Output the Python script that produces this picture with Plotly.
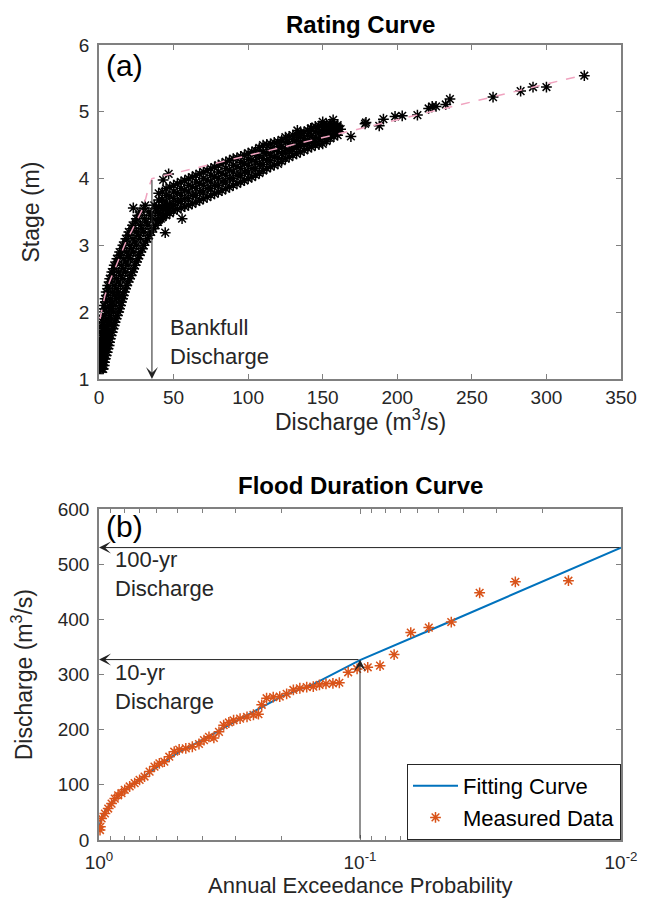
import numpy as np
import plotly.graph_objects as go

# ---- (a) rating curve: measured stage/discharge pairs ----
# steep low-flow part, read as rows of constant stage
steep_stage = [1.15, 1.2, 1.3, 1.4, 1.5, 1.6, 1.7, 1.8, 1.9, 2.0, 2.1, 2.2, 2.3,
               2.4, 2.5, 2.6, 2.7, 2.8, 2.9, 3.0, 3.1, 3.2, 3.3, 3.4, 3.5, 3.6]
steep_q = [
    [0.3, 1.2, 2.0, 2.8], [0.2, 1.3, 2.4, 3.5], [0.4, 1.7, 3.0, 4.2],
    [0.6, 2.2, 3.8, 5.5], [0.8, 2.8, 4.8, 6.8], [1.0, 3.2, 5.4, 7.6],
    [1.4, 3.9, 6.4, 8.9], [1.9, 4.6, 7.4, 10.2], [2.3, 5.3, 8.4, 11.5],
    [2.8, 6.3, 9.7, 13.2], [3.4, 7.1, 10.8, 14.5], [4.0, 7.9, 11.9, 15.8],
    [4.8, 8.9, 12.9, 17.0], [5.8, 10.1, 14.3, 18.6], [7.2, 11.6, 16.0, 20.5],
    [8.6, 13.2, 17.8, 22.5], [10.2, 14.9, 19.5, 24.2], [12.0, 16.7, 21.3, 26.0],
    [13.8, 18.5, 23.2, 28.0], [16.0, 20.7, 25.3, 30.0], [18.0, 22.8, 27.7, 32.5],
    [20.0, 25.0, 30.0, 35.0], [22.5, 27.7, 32.8, 38.0], [25.0, 30.5, 36.0, 41.5],
    [27.5, 33.5, 39.5, 45.5], [31.0, 37.0, 43.5, 50.0],
]
steep_stage_b = [1.25, 1.35, 1.45, 1.55, 1.65, 1.75, 1.85, 1.95, 2.05, 2.15, 2.25,
                 2.35, 2.45, 2.55, 2.65, 2.75, 2.85, 2.95, 3.05, 3.15, 3.25, 3.35,
                 3.45, 3.55]
steep_q_b = [
    [0.8, 2.2, 3.7], [1.0, 2.9, 4.8], [1.2, 3.5, 6.0], [1.5, 4.1, 7.1],
    [1.9, 4.8, 8.1], [2.3, 5.5, 9.4], [2.7, 6.4, 10.7], [3.2, 7.3, 12.2],
    [3.8, 8.3, 13.7], [4.4, 9.2, 15.0], [5.2, 10.3, 16.3], [6.2, 11.5, 17.7],
    [7.4, 12.9, 19.4], [8.8, 14.5, 21.4], [10.3, 16.2, 23.2], [12.0, 17.9, 25.0],
    [13.8, 19.8, 26.9], [15.8, 21.8, 28.9], [17.8, 24.0, 31.1], [19.8, 26.3, 33.6],
    [22.0, 28.8, 36.4], [24.5, 31.6, 39.6], [27.0, 34.6, 43.3], [30.0, 38.0, 47.5],
]
# flatter high-flow part, read as columns of constant discharge
flat_q = [40, 45, 50, 55, 60, 65, 70, 75, 80, 85, 90, 95, 100, 105, 110,
          115, 120, 125, 130, 135, 140, 145, 150, 155, 160]
flat_stage = [
    [3.38, 3.48, 3.58, 3.68, 3.78], [3.45, 3.55, 3.65, 3.75, 3.85],
    [3.52, 3.61, 3.70, 3.80, 3.90], [3.56, 3.66, 3.75, 3.85, 3.95],
    [3.60, 3.70, 3.80, 3.90, 4.00], [3.65, 3.75, 3.85, 3.95, 4.05],
    [3.70, 3.80, 3.90, 4.00, 4.10], [3.75, 3.85, 3.95, 4.05, 4.15],
    [3.80, 3.90, 4.00, 4.10, 4.20], [3.85, 3.95, 4.05, 4.15, 4.25],
    [3.90, 4.00, 4.10, 4.20, 4.30], [3.95, 4.05, 4.15, 4.24, 4.33],
    [4.00, 4.10, 4.20, 4.29, 4.38], [4.05, 4.15, 4.25, 4.34, 4.42],
    [4.12, 4.21, 4.30, 4.40, 4.50], [4.18, 4.27, 4.35, 4.44, 4.52],
    [4.22, 4.31, 4.40, 4.48, 4.55], [4.30, 4.38, 4.45, 4.54, 4.62],
    [4.35, 4.43, 4.50, 4.58, 4.65], [4.40, 4.48, 4.55, 4.62, 4.68],
    [4.45, 4.52, 4.58, 4.65, 4.72], [4.50, 4.56, 4.62, 4.70, 4.78],
    [4.52, 4.60, 4.68, 4.74, 4.80], [4.60, 4.66, 4.72, 4.77, 4.82],
    [4.65, 4.70, 4.75, 4.78, 4.80],
]
flat_q_b = [42.5, 47.5, 52.5, 57.5, 62.5, 67.5, 72.5, 77.5, 82.5, 87.5, 92.5, 97.5,
            102.5, 107.5, 112.5, 117.5, 122.5, 127.5, 132.5, 137.5, 142.5, 147.5,
            152.5, 157.5]
flat_stage_b = [
    [3.42, 3.55, 3.68, 3.80], [3.48, 3.61, 3.74, 3.87], [3.54, 3.66, 3.79, 3.92],
    [3.58, 3.70, 3.83, 3.97], [3.62, 3.75, 3.88, 4.02], [3.67, 3.80, 3.93, 4.07],
    [3.72, 3.85, 3.98, 4.12], [3.77, 3.90, 4.03, 4.17], [3.82, 3.95, 4.08, 4.22],
    [3.87, 4.00, 4.13, 4.27], [3.92, 4.05, 4.18, 4.31], [3.97, 4.10, 4.23, 4.35],
    [4.02, 4.15, 4.28, 4.40], [4.08, 4.21, 4.34, 4.46], [4.15, 4.27, 4.39, 4.51],
    [4.20, 4.32, 4.43, 4.54], [4.26, 4.37, 4.48, 4.58], [4.32, 4.42, 4.53, 4.63],
    [4.37, 4.47, 4.57, 4.66], [4.42, 4.51, 4.60, 4.70], [4.47, 4.55, 4.64, 4.75],
    [4.51, 4.60, 4.69, 4.79], [4.56, 4.64, 4.72, 4.81], [4.63, 4.70, 4.76, 4.81],
]
# isolated points
loose_q = [13.5, 23, 43, 44.4, 55.7, 46.7, 133, 142, 150, 157, 162, 168.9, 178.4,
           179, 187.9, 190.7, 198.5, 203.3, 213.5, 221, 223.4, 226, 232.5, 235.3,
           264.2, 282.7, 291, 300, 325.4]
loose_stage = [2.24, 3.56, 3.98, 3.19, 3.4, 4.07, 4.72, 4.75, 4.85, 4.88, 4.74, 4.63,
               4.82, 4.84, 4.79, 4.89, 4.93, 4.94, 4.95, 5.05, 5.08, 5.08, 5.11, 5.19,
               5.22, 5.31, 5.37, 5.37, 5.54]

# fitted rating (pink dashed)
fit_q = [0.7, 2, 4, 7, 10, 14, 18, 22, 26, 30, 33, 35.5, 325]
fit_stage = [1.9, 2.05, 2.25, 2.45, 2.62, 2.85, 3.05, 3.22, 3.4, 3.58, 3.85, 4.0, 5.55]
bankfull_q = 35.5
bankfull_stage = 4.0

# ---- (b) flood duration curve ----
meas_prob = [0.991, 0.988, 0.977, 0.949, 0.922, 0.895, 0.87, 0.845, 0.82, 0.797,
             0.763, 0.73, 0.699, 0.669, 0.64, 0.613, 0.587, 0.562, 0.538, 0.515,
             0.493, 0.465, 0.439, 0.414, 0.396, 0.379, 0.363, 0.347, 0.333, 0.318,
             0.305, 0.288, 0.271, 0.256, 0.245, 0.238, 0.228, 0.215, 0.203, 0.191,
             0.18, 0.17, 0.16, 0.151, 0.143, 0.135, 0.127, 0.12, 0.111, 0.1026,
             0.0934, 0.0838, 0.074, 0.0639, 0.0545, 0.0447, 0.0348, 0.0254, 0.0159]
meas_q = [18, 24, 39, 48, 57, 66, 75, 81, 85, 91, 97, 103, 109, 115, 124, 133, 139,
          142, 151, 160, 164, 166, 169, 174, 181, 187, 185, 196, 208, 213, 217, 220,
          223, 227, 228, 245, 257, 259, 260, 265, 272, 275, 277, 278, 281, 283, 284,
          285, 304, 310, 313, 316, 336, 376, 385, 395, 448, 468, 470]
fit_prob = [0.995, 0.98, 0.95, 0.9, 0.8, 0.7, 0.6, 0.5, 0.4, 0.3, 0.2, 0.15, 0.1,
            0.05, 0.02, 0.01]
fit_discharge = [25, 38, 52, 66, 90, 110, 132, 158, 182, 215, 260, 283, 326, 387,
                 469, 530]
p10, q10 = 0.1, 327
p100, q100 = 0.01, 530

# flatten the rating readings
rating_q, rating_h = [], []
for stages, qs in ((steep_stage, steep_q), (steep_stage_b, steep_q_b)):
    for h, row in zip(stages, qs):
        rating_q += row
        rating_h += [h] * len(row)
for qs, stages in ((flat_q, flat_stage), (flat_q_b, flat_stage_b)):
    for q, col in zip(qs, stages):
        rating_q += [q] * len(col)
        rating_h += col
rating_q += loose_q
rating_h += loose_stage

FONT = "Liberation Sans, Arial, sans-serif"
TXT = "#262626"
AX = "#808080"

fig = go.Figure()
fig.add_trace(go.Scatter(x=rating_q, y=rating_h, mode="markers", showlegend=False,
                         marker=dict(symbol="asterisk-open", size=9, color="black",
                                     line=dict(color="black", width=1.5)),
                         xaxis="x", yaxis="y"))
fig.add_trace(go.Scatter(x=fit_q, y=fit_stage, mode="lines", showlegend=False,
                         line=dict(color="#f0a3bf", width=1.5, dash="dash"),
                         xaxis="x", yaxis="y"))
fig.add_trace(go.Scatter(x=fit_prob, y=fit_discharge, mode="lines", name="Fitting Curve",
                         line=dict(color="#0072BD", width=2), xaxis="x2", yaxis="y2"))
fig.add_trace(go.Scatter(x=meas_prob, y=meas_q, mode="markers", name="Measured Data",
                         marker=dict(symbol="asterisk-open", size=9, color="#D95319",
                                     line=dict(color="#D95319", width=1.5)),
                         xaxis="x2", yaxis="y2"))

axis_common = dict(showline=True, linecolor=AX, linewidth=1.5, mirror="ticks",
                   ticks="inside", ticklen=5, tickcolor=AX, showgrid=False,
                   zeroline=False, tickfont=dict(size=19, color=TXT, family=FONT))

# the page has an 8px body margin, so the figure is 16px smaller than the window
fig.update_layout(
    width=641, height=890,
    margin=dict(l=91, r=23, t=37, b=58),
    plot_bgcolor="white", paper_bgcolor="white",
    font=dict(family=FONT, color=TXT, size=19),
    xaxis=dict(domain=[0, 1], range=[0, 350], tickvals=list(range(0, 351, 50)),
               anchor="y", ticklabelstandoff=1, **axis_common),
    yaxis=dict(domain=[0.58, 1], range=[1, 6], dtick=1, anchor="x",
               ticklabelstandoff=4, **axis_common),
    xaxis2=dict(domain=[0, 1], type="log", range=[0, -2], anchor="y2",
                tickvals=[1, 0.1, 0.01],
                ticktext=["10<sup>0</sup>", "10<sup>-1</sup>", "10<sup>-2</sup>"],
                minor=dict(tickvals=[0.9, 0.8, 0.7, 0.6, 0.5, 0.4, 0.3, 0.2,
                                     0.09, 0.08, 0.07, 0.06, 0.05, 0.04, 0.03, 0.02],
                           ticks="inside", ticklen=4, tickcolor=AX),
                ticklabelstandoff=4, **axis_common),
    yaxis2=dict(domain=[0, 0.4164], range=[0, 600], dtick=100, anchor="x2",
                ticklabelstandoff=4, **axis_common),
    legend=dict(x=1, y=0, xanchor="right", yanchor="bottom", bgcolor="white",
                bordercolor=TXT, borderwidth=1, font=dict(size=22, color="black"),
                tracegroupgap=0, itemwidth=45),
)

ann = []
# titles and axis labels
ann.append(dict(text="<b>Rating Curve</b>", xref="x domain", yref="y domain", x=0.5,
                y=1.06, showarrow=False, font=dict(size=24, color="black"),
                xanchor="center", yanchor="middle"))
ann.append(dict(text="<b>Flood Duration Curve</b>", xref="x2 domain", yref="y2 domain",
                x=0.5, y=1.072, showarrow=False, font=dict(size=24, color="black"),
                xanchor="center", yanchor="middle"))
ann.append(dict(text="Stage (m)", xref="x domain", yref="y domain", x=-0.131, y=0.5,
                textangle=-90, showarrow=False, font=dict(size=23),
                xanchor="center", yanchor="middle"))
ann.append(dict(text="Discharge (m<sup>3</sup>/s)", xref="x domain", yref="y domain",
                x=0.5, y=-0.122, showarrow=False, font=dict(size=23),
                xanchor="center", yanchor="middle"))
ann.append(dict(text="Discharge (m<sup>3</sup>/s)", xref="x2 domain", yref="y2 domain",
                x=-0.146, y=0.5, textangle=-90, showarrow=False, font=dict(size=23),
                xanchor="center", yanchor="middle"))
ann.append(dict(text="Annual Exceedance Probability", xref="x2 domain",
                yref="y2 domain", x=0.5, y=-0.137, showarrow=False, font=dict(size=22),
                xanchor="center", yanchor="middle"))
ann.append(dict(text="(a)", xref="x domain", yref="y domain", x=0.009, y=0.94,
                xanchor="left", yanchor="middle", showarrow=False,
                font=dict(size=30, color="black")))
ann.append(dict(text="(b)", xref="x2 domain", yref="y2 domain", x=0.009, y=0.947,
                xanchor="left", yanchor="middle", showarrow=False,
                font=dict(size=30, color="black")))

arrow = dict(showarrow=True, arrowhead=3, arrowsize=2, arrowwidth=1,
             arrowcolor="#222222", standoff=0, startstandoff=0, text="")
# bankfull arrow
ann.append(dict(x=bankfull_q, y=1, ax=bankfull_q, ay=bankfull_stage, xref="x", yref="y",
                axref="x", ayref="y", **arrow))
ann.append(dict(text="Bankfull<br>Discharge", xref="x", yref="y", x=46.5, y=1.55,
                xanchor="left", yanchor="middle", align="left", showarrow=False,
                font=dict(size=22, color=TXT)))
# return-period arrows (log axis -> log10 coordinates)
ann.append(dict(x=0, y=q100, ax=np.log10(p100), ay=q100, xref="x2", yref="y2",
                axref="x2", ayref="y2", **arrow))
ann.append(dict(x=0, y=q10, ax=np.log10(p10), ay=q10, xref="x2", yref="y2",
                axref="x2", ayref="y2", **arrow))
ann.append(dict(x=np.log10(p10), y=q10, ax=np.log10(p10), ay=0, xref="x2", yref="y2",
                axref="x2", ayref="y2", **arrow))
ann.append(dict(text="100-yr<br>Discharge", xref="x2", yref="y2", x=np.log10(0.88),
                y=482, xanchor="left", yanchor="middle", align="left",
                showarrow=False, font=dict(size=22, color=TXT)))
ann.append(dict(text="10-yr<br>Discharge", xref="x2", yref="y2", x=np.log10(0.88),
                y=278, xanchor="left", yanchor="middle", align="left",
                showarrow=False, font=dict(size=22, color=TXT)))
fig.update_layout(annotations=ann)

fig.write_html("out.html")
